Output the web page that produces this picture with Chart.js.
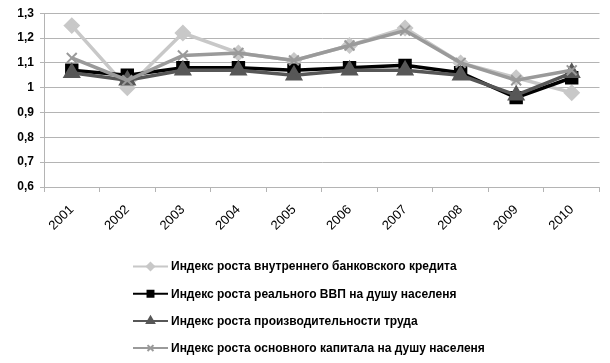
<!DOCTYPE html>
<html>
<head>
<meta charset="utf-8">
<script src="https://cdn.jsdelivr.net/npm/chart.js@4/dist/chart.umd.min.js"></script>
<style>
  html, body { margin: 0; padding: 0; background: #fff; }
  #wrap { width: 610px; height: 363px; position: relative; }
</style>
</head>
<body>
<div id="wrap"><canvas id="chart" width="610" height="363"></canvas></div>
<script>
// chart data
const years = ['2001', '2002', '2003', '2004', '2005', '2006', '2007', '2008', '2009', '2010'];
const creditIndex = [1.25, 1.00, 1.22, 1.14, 1.11, 1.17, 1.24, 1.10, 1.04, 0.98];
const gdpIndex = [1.07, 1.05, 1.08, 1.08, 1.07, 1.08, 1.09, 1.06, 0.96, 1.04];
const laborIndex = [1.06, 1.03, 1.07, 1.07, 1.05, 1.07, 1.07, 1.05, 0.97, 1.06];
const capitalIndex = [1.12, 1.03, 1.13, 1.14, 1.11, 1.17, 1.23, 1.10, 1.03, 1.07];
const seriesNames = [
    'Индекс роста внутреннего банковского кредита',
    'Индекс роста реального ВВП на душу населеня',
    'Индекс роста производительности труда',
    'Индекс роста основного капитала на душу населеня'
];

const gridColor = '#b4b4b4';
const sansFont = '"Liberation Sans", Arial, sans-serif';

// Excel-style legend: one row per series, line with marker in the middle
const stackedLegend = {
    id: 'stackedLegend',
    afterDraw(chart) {
        const ctx = chart.ctx;
        chart.data.datasets.forEach((ds, i) => {
            const y = 266.5 + i * 27.2;
            ctx.save();
            ctx.strokeStyle = ds.borderColor;
            ctx.lineWidth = 2;
            ctx.beginPath();
            ctx.moveTo(133, y);
            ctx.lineTo(168, y);
            ctx.stroke();
            ctx.fillStyle = ds.pointBackgroundColor;
            ctx.strokeStyle = ds.pointBorderColor;
            Chart.helpers.drawPoint(ctx, {
                pointStyle: ds.pointStyle,
                radius: ds.pointRadius * 0.6,
                borderWidth: 1,
                rotation: 0
            }, 150.5, y);
            ctx.fillStyle = '#000';
            ctx.font = 'bold 12px ' + sansFont;
            ctx.textBaseline = 'middle';
            ctx.fillText(ds.label, 171, y + 0.5);
            ctx.restore();
        });
    }
};

const canvas = document.getElementById('chart');
new Chart(canvas, {
    type: 'line',
    data: {
        labels: years,
        datasets: [{
            label: seriesNames[0],
            data: creditIndex,
            borderColor: '#c8c8c8',
            pointBackgroundColor: '#c8c8c8',
            pointBorderColor: '#c8c8c8',
            pointStyle: 'rectRot',
            pointRadius: 6,
            borderWidth: 3.5,
            order: 4
        }, {
            label: seriesNames[1],
            data: gdpIndex,
            borderColor: '#000000',
            pointBackgroundColor: '#000000',
            pointBorderColor: '#000000',
            pointStyle: 'rect',
            pointRadius: 7,
            borderWidth: 3.5,
            order: 3
        }, {
            label: seriesNames[2],
            data: laborIndex,
            borderColor: '#575757',
            pointBackgroundColor: '#575757',
            pointBorderColor: '#575757',
            pointStyle: 'triangle',
            pointRadius: 7,
            borderWidth: 3.5,
            order: 2
        }, {
            label: seriesNames[3],
            data: capitalIndex,
            borderColor: '#9a9a9a',
            pointBackgroundColor: '#9a9a9a',
            pointBorderColor: '#9a9a9a',
            pointStyle: 'crossRot',
            pointRadius: 7,
            pointBorderWidth: 2,
            borderWidth: 3.5,
            order: 1
        }]
    },
    options: {
        responsive: false,
        animation: false,
        layout: { padding: { top: 6, right: 8, left: 0, bottom: 116 } },
        plugins: {
            legend: { display: false },
            tooltip: { enabled: false }
        },
        elements: { line: { tension: 0 } },
        scales: {
            x: {
                offset: true,
                grid: {
                    offset: true,
                    drawOnChartArea: false,
                    drawTicks: true,
                    tickLength: 5,
                    color: gridColor
                },
                border: { color: gridColor, width: 1 },
                ticks: {
                    minRotation: 45,
                    maxRotation: 45,
                    color: '#000',
                    padding: 10,
                    font: { family: sansFont, size: 13 }
                },
                afterFit: s => { s.height = 60; }
            },
            y: {
                min: 0.6,
                max: 1.3,
                grid: { color: gridColor, tickLength: 4 },
                border: { color: gridColor, width: 1 },
                ticks: {
                    stepSize: 0.1,
                    color: '#000',
                    padding: 6,
                    font: { family: sansFont, size: 12, weight: 'bold' },
                    callback: v => (Math.round(v * 10) / 10).toString().replace('.', ',')
                },
                afterFit: s => { s.width = 44; }
            }
        }
    },
    plugins: [stackedLegend]
});
</script>
</body>
</html>
